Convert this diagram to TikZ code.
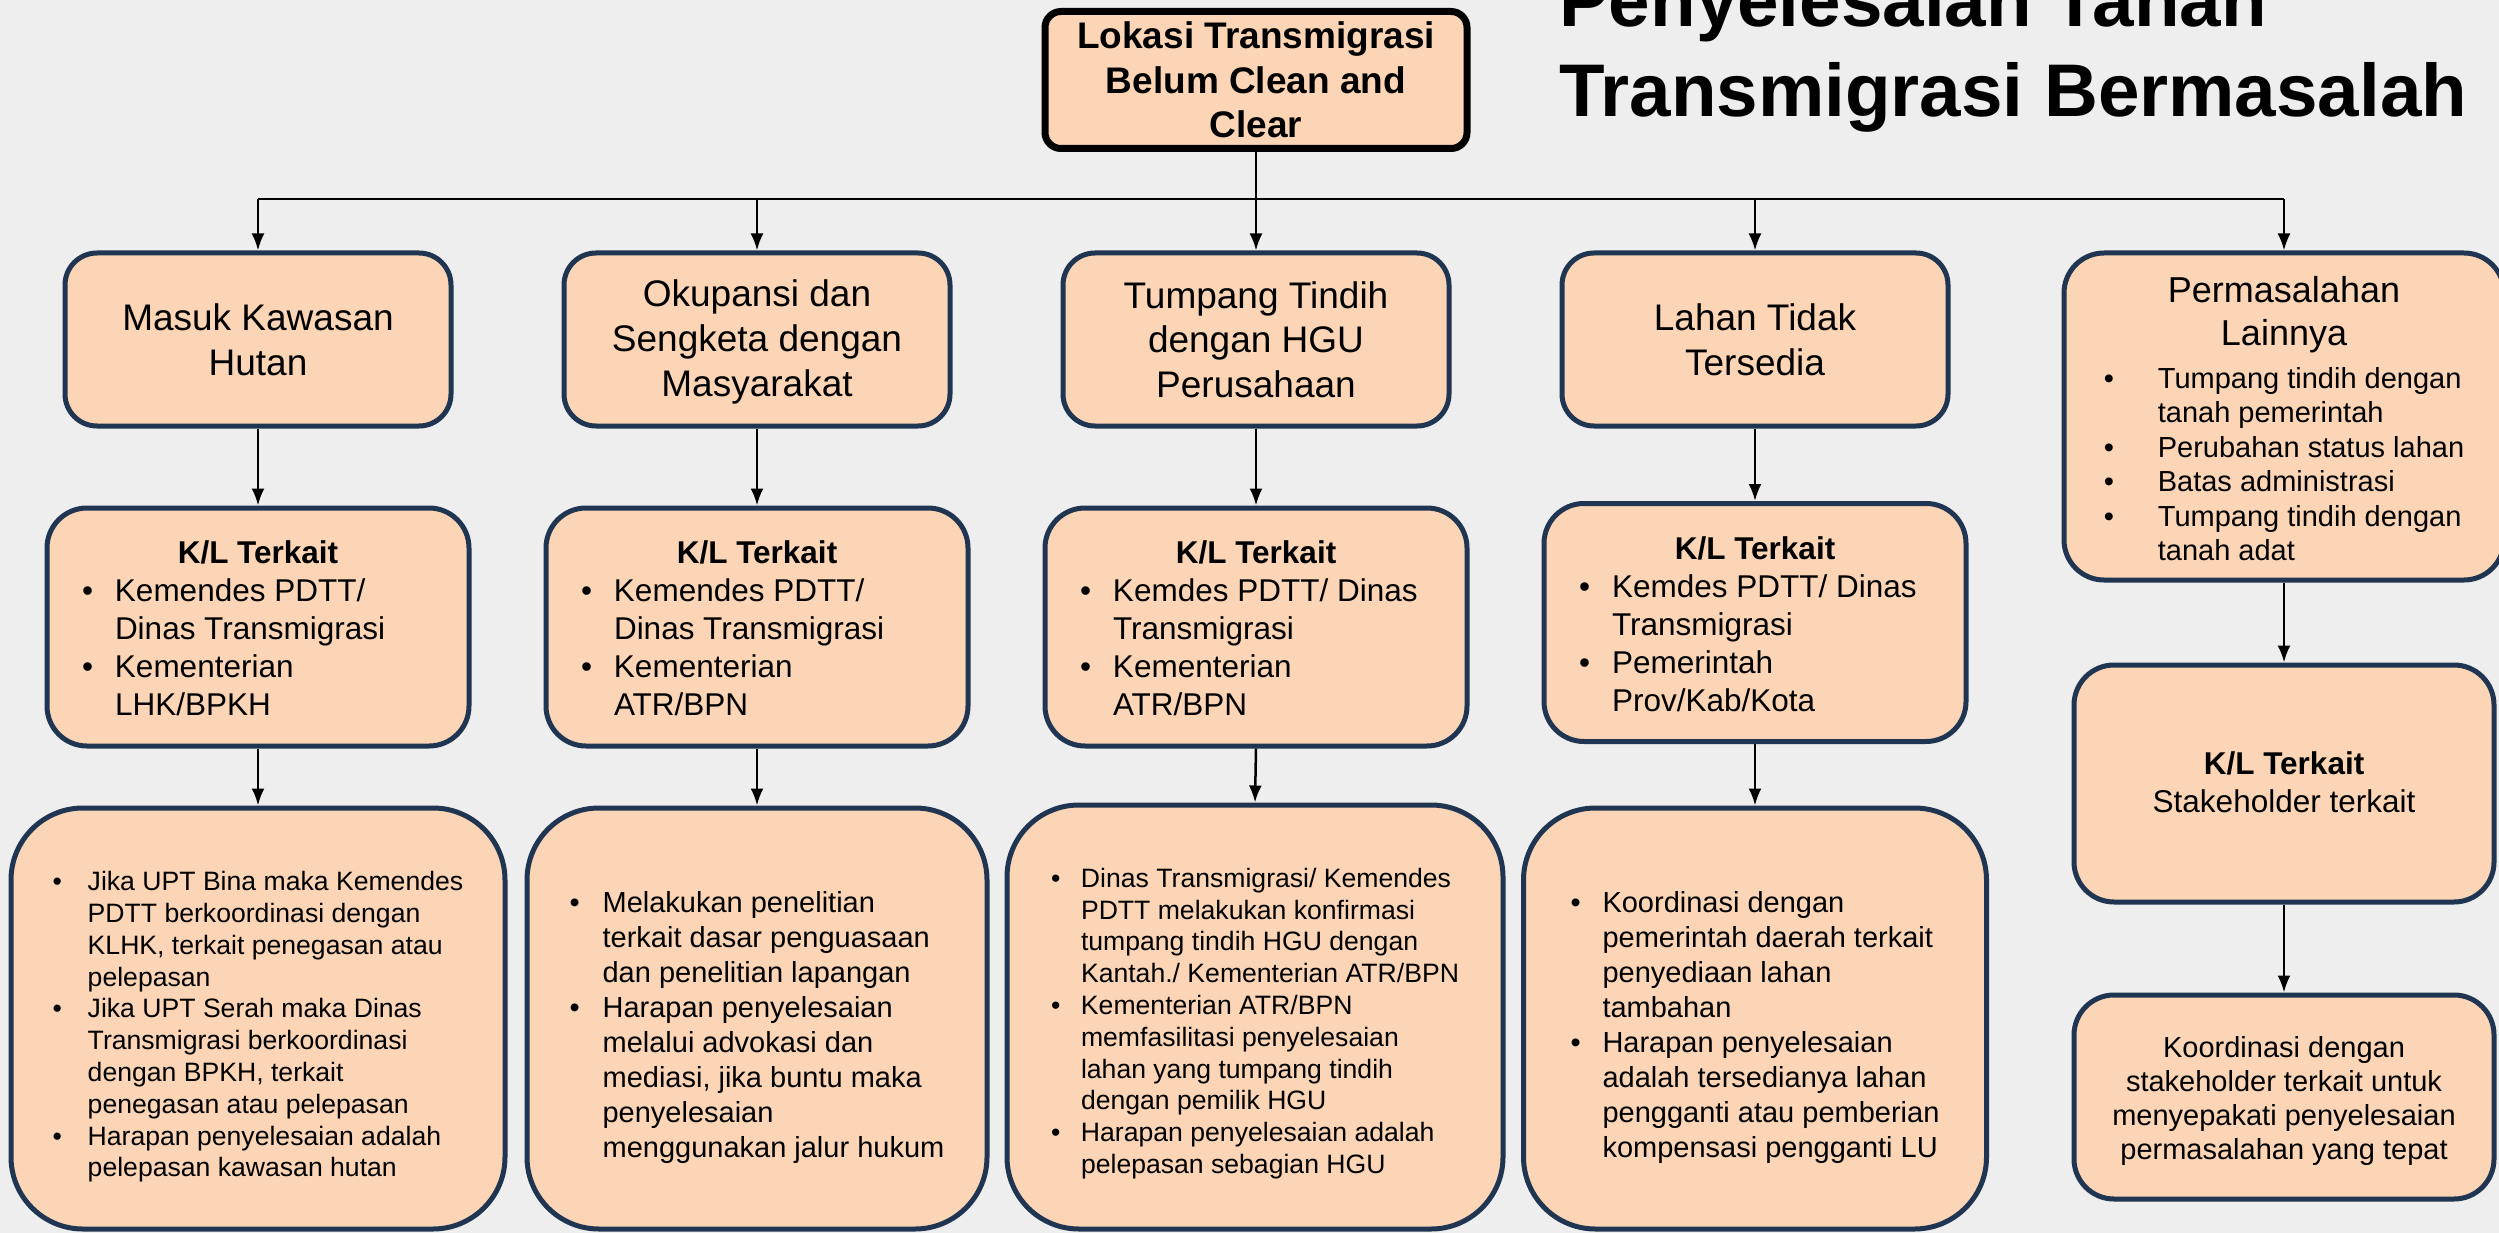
\documentclass[tikz,border=0pt]{standalone}
\usepackage{fontspec}
\setmainfont{Liberation Sans}
\usetikzlibrary{arrows.meta}
\definecolor{peach}{HTML}{FBD5B5}
\definecolor{navy}{HTML}{1F3552}
\definecolor{paper}{HTML}{EEEEEE}
\newcommand{\bl}[1][33pt]{\makebox[#1][l]{\textbullet}}
\newcommand{\dn}[1]{\noalign{\vskip #1}}
\begin{document}
\begin{tikzpicture}[x=1pt,y=-1pt,
  box/.style={draw=navy, line width=5pt, fill=peach, inner sep=0pt},
  toprow/.style={box, rounded corners=32pt, minimum width=386pt, minimum height=173pt,
    align=center, font=\fontsize{37}{44.6}\selectfont},
  midrow/.style={box, rounded corners=40pt, minimum width=422pt, minimum height=238pt,
    font=\fontsize{31.5}{38}\selectfont},
  botrow/.style={box, rounded corners=72pt, minimum height=421pt},
  small/.style={font=\fontsize{26.6}{31.8}\selectfont},
  medium/.style={font=\fontsize{29}{35}\selectfont},
  titletext/.style={font=\bfseries\fontsize{74.6}{89.5}\selectfont, inner sep=0pt, anchor=base west},
  arr/.style={line width=2.5pt, -{Latex[length=17pt,width=13pt]}},
  ln/.style={line width=2.5pt}
]
\useasboundingbox (0,0) rectangle (2499,1233);
\clip (0,0) rectangle (2499,1233);
\fill[paper] (0,0) rectangle (2499,1233);

% title
\node[titletext] (t1) at (1559,27) {Penyelesaian Tanah};
\node[titletext] (t2) at (1559,117) {Transmigrasi Bermasalah};

% source
\node[draw=black, line width=7pt, fill=peach, rounded corners=16pt, inner sep=0pt,
  minimum width=422pt, minimum height=137pt, align=center,
  font=\bfseries\fontsize{37}{44.6}\selectfont] (src) at (1256,80)
  {Lokasi Transmigrasi\\Belum Clean and\\Clear};

\coordinate (busL) at (258,199);
\coordinate (busR) at (2284,199);

% top row
\node[toprow] (p1) at (258,339.5) {Masuk Kawasan\\Hutan};
\node[toprow] (p2) at (757,339.5) {%
\begin{tabular}{@{}c@{}}\dn{6pt}Okupansi dan\\Sengketa dengan\\Masyarakat\end{tabular}};
\node[toprow] (p3) at (1256,339.5) {Tumpang Tindih\\dengan HGU\\Perusahaan};
\node[toprow] (p4) at (1755,339.5) {Lahan Tidak\\Tersedia};
\node[box, rounded corners=40pt, minimum width=440pt, minimum height=327pt,
  font=\fontsize{29}{34.4}\selectfont] (p5) at (2284,416.5) {%
\begin{tabular}{@{}l@{}l@{}}
\dn{14pt}
\multicolumn{2}{@{}c@{}}{\makebox[360pt]{\fontsize{36}{43}\selectfont Permasalahan}}\\[7pt]
\multicolumn{2}{@{}c@{}}{\makebox[360pt]{\fontsize{36}{43}\selectfont Lainnya}}\\[8.6pt]
\bl[54pt] & Tumpang tindih dengan\\
 & tanah pemerintah\\
\bl[54pt] & Perubahan status lahan\\
\bl[54pt] & Batas administrasi\\
\bl[54pt] & Tumpang tindih dengan\\
 & tanah adat
\end{tabular}};

% middle row
\node[midrow] (k1) at (258,627) {%
\begin{tabular}{@{}l@{}l@{}}
\dn{10pt}
\multicolumn{2}{@{}c@{}}{\makebox[352pt]{\bfseries K/L Terkait}}\\
\bl & Kemendes PDTT/\\
 & Dinas Transmigrasi\\
\bl & Kementerian\\
 & LHK/BPKH
\end{tabular}};
\node[midrow] (k2) at (757,627) {%
\begin{tabular}{@{}l@{}l@{}}
\dn{10pt}
\multicolumn{2}{@{}c@{}}{\makebox[352pt]{\bfseries K/L Terkait}}\\
\bl & Kemendes PDTT/\\
 & Dinas Transmigrasi\\
\bl & Kementerian\\
 & ATR/BPN
\end{tabular}};
\node[midrow] (k3) at (1256,627) {%
\begin{tabular}{@{}l@{}l@{}}
\dn{10pt}
\multicolumn{2}{@{}c@{}}{\makebox[352pt]{\bfseries K/L Terkait}}\\
\bl & Kemdes PDTT/ Dinas\\
 & Transmigrasi\\
\bl & Kementerian\\
 & ATR/BPN
\end{tabular}};
\node[midrow] (k4) at (1755,622.5) {%
\begin{tabular}{@{}l@{}l@{}}
\dn{10pt}
\multicolumn{2}{@{}c@{}}{\makebox[352pt]{\bfseries K/L Terkait}}\\
\bl & Kemdes PDTT/ Dinas\\
 & Transmigrasi\\
\bl & Pemerintah\\
 & Prov/Kab/Kota
\end{tabular}};
\node[midrow, minimum width=420pt, minimum height=237pt] (k5) at (2284,783.5) {%
\begin{tabular}{@{}c@{}}\dn{5pt}\textbf{K/L Terkait}\\Stakeholder terkait\end{tabular}};

% bottom row
\node[botrow, small, minimum width=494pt] (b1) at (258,1018.5) {%
\begin{tabular}{@{}l@{}l@{}}
\dn{18pt}
\bl[35pt] & Jika UPT Bina maka Kemendes\\
 & PDTT berkoordinasi dengan\\
 & KLHK, terkait penegasan atau\\
 & pelepasan\\
\bl[35pt] & Jika UPT Serah maka Dinas\\
 & Transmigrasi berkoordinasi\\
 & dengan BPKH, terkait\\
 & penegasan atau pelepasan\\
\bl[35pt] & Harapan penyelesaian adalah\\
 & pelepasan kawasan hutan
\end{tabular}};
\node[botrow, medium, minimum width=460pt] (b2) at (757,1018.5) {%
\begin{tabular}{@{}l@{}l@{}}
\dn{18pt}
\bl & Melakukan penelitian\\
 & terkait dasar penguasaan\\
 & dan penelitian lapangan\\
\bl & Harapan penyelesaian\\
 & melalui advokasi dan\\
 & mediasi, jika buntu maka\\
 & penyelesaian\\
 & menggunakan jalur hukum
\end{tabular}};
\node[botrow, small, minimum width=496pt, minimum height=424pt] (b3) at (1255,1017) {%
\begin{tabular}{@{}l@{}l@{}}
\dn{14pt}
\bl[30pt] & Dinas Transmigrasi/ Kemendes\\
 & PDTT melakukan konfirmasi\\
 & tumpang tindih HGU dengan\\
 & Kantah./ Kementerian ATR/BPN\\
\bl[30pt] & Kementerian ATR/BPN\\
 & memfasilitasi penyelesaian\\
 & lahan yang tumpang tindih\\
 & dengan pemilik HGU\\
\bl[30pt] & Harapan penyelesaian adalah\\
 & pelepasan sebagian HGU
\end{tabular}};
\node[botrow, medium, minimum width=463pt] (b4) at (1755,1018.5) {%
\begin{tabular}{@{}l@{}l@{}}
\dn{19pt}
\bl[32pt] & Koordinasi dengan\\
 & pemerintah daerah terkait\\
 & penyediaan lahan\\
 & tambahan\\
\bl[32pt] & Harapan penyelesaian\\
 & adalah tersedianya lahan\\
 & pengganti atau pemberian\\
 & kompensasi pengganti LU
\end{tabular}};
\node[box, rounded corners=40pt, minimum width=420pt, minimum height=204pt,
  font=\fontsize{29}{34}\selectfont] (b5) at (2284,1097) {%
\begin{tabular}{@{}c@{}}\dn{10pt}Koordinasi dengan\\stakeholder terkait untuk\\menyepakati penyelesaian\\permasalahan yang tepat\end{tabular}};

% connectors
\draw[ln] (src.south) -- (src.south |- busL);
\draw[ln] (busL) -- (busR);
\draw[arr] (busL) -- (p1.north);
\draw[arr] (p2.north |- busL) -- (p2.north);
\draw[arr] (p3.north |- busL) -- (p3.north);
\draw[arr] (p4.north |- busL) -- (p4.north);
\draw[arr] (busR) -- (p5.north);
\draw[arr] (p1.south) -- (k1.north);
\draw[arr] (p2.south) -- (k2.north);
\draw[arr] (p3.south) -- (k3.north);
\draw[arr] (p4.south) -- (k4.north);
\draw[arr] (p5.south) -- (k5.north);
\draw[arr] (k1.south) -- (b1.north);
\draw[arr] (k2.south) -- (b2.north);
\draw[arr] (k3.south) -- (b3.north);
\draw[arr] (k4.south) -- (b4.north);
\draw[arr] (k5.south) -- (b5.north);
\end{tikzpicture}
\end{document}
